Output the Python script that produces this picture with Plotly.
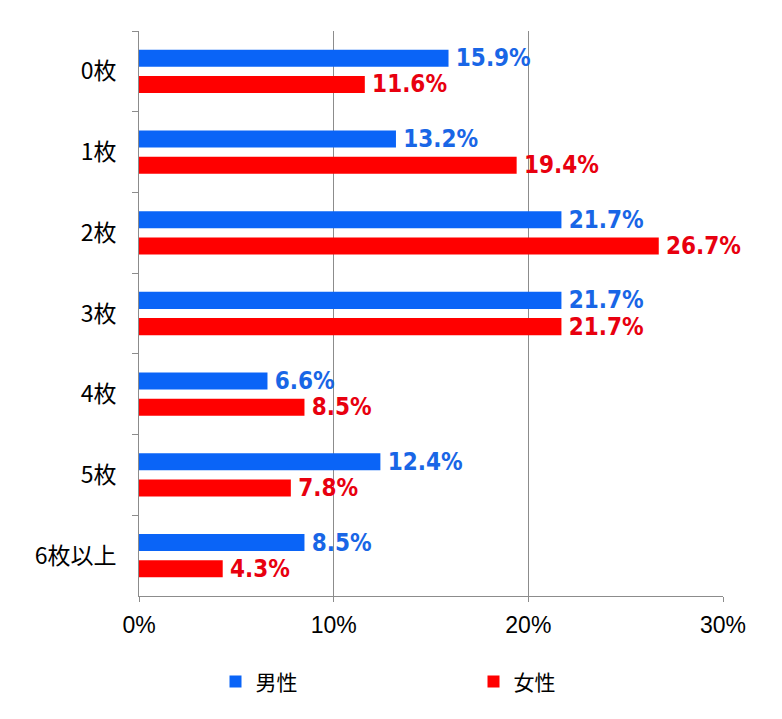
import plotly.graph_objects as go

categories = ["0枚", "1枚", "2枚", "3枚", "4枚", "5枚", "6枚以上"]
male = [15.9, 13.2, 21.7, 21.7, 6.6, 12.4, 8.5]
female = [11.6, 19.4, 26.7, 21.7, 8.5, 7.8, 4.3]
series_names = ["男性", "女性"]
x_ticks = [0, 10, 20, 30]
x_ticklabels = ["0%", "10%", "20%", "30%"]

bar_colors = ["#0a64f7", "#ff0000"]
text_colors = ["#1966e6", "#e8000f"]
label_font = "DejaVu Sans Condensed, Liberation Sans, sans-serif"

fig = go.Figure()
for name, vals, bc, tc in zip(series_names, [male, female], bar_colors, text_colors):
    fig.add_trace(go.Bar(
        y=categories, x=vals, name=name, orientation="h",
        marker=dict(color=bc, line=dict(width=0)),
        texttemplate="\u2009%{x:.1f}%", textposition="outside",
        outsidetextfont=dict(family=label_font, size=24, color=tc, weight="bold"),
        constraintext="none", cliponaxis=False,
    ))

fig.update_layout(
    width=782, height=719,
    margin=dict(l=139, r=59, t=31, b=123),
    plot_bgcolor="white", paper_bgcolor="white",
    barmode="group", bargap=0.35, bargroupgap=0.35,
    showlegend=True,
    legend=dict(orientation="h", x=0.131, y=-0.152, xanchor="left", yanchor="middle",
                entrywidth=213, entrywidthmode="pixels",
                font=dict(family="Noto Sans CJK JP", size=21, color="black"),
                traceorder="normal"),
    xaxis=dict(range=[0, 30], tickvals=x_ticks, ticktext=x_ticklabels,
               showgrid=True, gridcolor="#8c8c8c", gridwidth=1,
               showline=True, linecolor="#8c8c8c", linewidth=1,
               ticks="outside", ticklen=5, tickcolor="#8c8c8c",
               ticklabelstandoff=3,
               tickfont=dict(family="Liberation Sans, Arial, sans-serif", size=23, color="black"),
               zeroline=False),
    yaxis=dict(autorange="reversed", showgrid=False,
               showline=True, linecolor="#8c8c8c", linewidth=1,
               ticks="outside", ticklen=6, tickcolor="#8c8c8c", tickson="boundaries",
               ticklabelstandoff=17,
               tickfont=dict(family="Noto Sans CJK JP", size=23, color="black")),
)

fig.write_html("out.html")
